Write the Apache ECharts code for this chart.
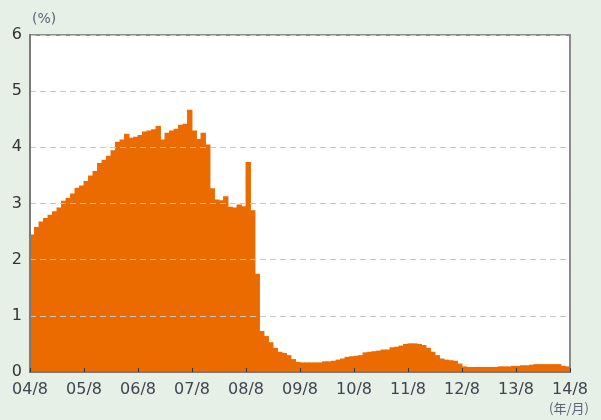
<!DOCTYPE html>
<html>
<head>
<meta charset="utf-8">
<script src="https://cdn.jsdelivr.net/npm/echarts@6/dist/echarts.min.js"></script>
<style>
html,body{margin:0;padding:0;background:#e7f0e6;}
#chart{width:601px;height:420px;}
</style>
</head>
<body>
<div id="chart"></div>
<script>
// Monthly values, Aug 2004 .. Jul 2014 (120 months)
var startYear = 2004, startMonth = 8;
var rates = [
  2.45, 2.58, 2.68, 2.74, 2.80, 2.86, 2.93, 3.05, 3.10, 3.18, 3.28, 3.32,
  3.40, 3.50, 3.58, 3.72, 3.78, 3.85, 3.95, 4.10, 4.14, 4.24, 4.17, 4.19,
  4.22, 4.28, 4.30, 4.32, 4.38, 4.14, 4.26, 4.30, 4.33, 4.40, 4.42, 4.67,
  4.30, 4.15, 4.26, 4.05, 3.27, 3.07, 3.06, 3.13, 2.94, 2.93, 2.98, 2.95,
  3.74, 2.88, 1.75, 0.73, 0.64, 0.53, 0.43, 0.36, 0.34, 0.30, 0.23, 0.18,
  0.17, 0.17, 0.17, 0.17, 0.17, 0.19, 0.19, 0.20, 0.22, 0.24, 0.27, 0.28,
  0.29, 0.30, 0.35, 0.36, 0.37, 0.38, 0.40, 0.40, 0.44, 0.45, 0.47, 0.50,
  0.51, 0.51, 0.50, 0.48, 0.43, 0.36, 0.30, 0.24, 0.22, 0.21, 0.20, 0.15,
  0.10, 0.09, 0.09, 0.09, 0.09, 0.09, 0.09, 0.09, 0.10, 0.10, 0.10, 0.11,
  0.11, 0.12, 0.12, 0.13, 0.14, 0.14, 0.14, 0.14, 0.14, 0.14, 0.11, 0.10
];
var xTickLabels = ['04/8','05/8','06/8','07/8','08/8','09/8','10/8','11/8','12/8','13/8','14/8'];
var yTickLabels = ['0','1','2','3','4','5','6'];

var months = [];
for (var i = 0; i < rates.length; i++) {
  var m = startMonth - 1 + i;
  months.push((startYear + Math.floor(m / 12)) + '/' + (m % 12 + 1));
}

var chart = echarts.init(document.getElementById('chart'), null, {renderer: 'canvas'});
var axisColor = '#7a7a7a';
var labelColor = '#3c4650';
var barColor = '#eb6b00';

chart.setOption({
  backgroundColor: '#e7f0e6',
  animation: false,
  grid: {
    left: 30, right: 31, top: 35, bottom: 48,
    show: true, backgroundColor: '#ffffff',
    borderColor: '#8a8a8a', borderWidth: 2
  },
  xAxis: [
    {
      type: 'category', data: months, show: false, boundaryGap: true
    },
    {
      type: 'value', min: 0, max: rates.length, interval: 12,
      position: 'bottom', z: 10,
      axisLine: {show: true, lineStyle: {color: axisColor, width: 2}},
      axisTick: {show: true, inside: true, length: 4, lineStyle: {color: '#333', width: 1}},
      splitLine: {show: false},
      axisLabel: {
        margin: 10, color: labelColor, fontSize: 16, fontFamily: 'DejaVu Sans',
        formatter: function (v) { return xTickLabels[Math.round(v / 12)] || ''; }
      }
    }
  ],
  yAxis: {
    type: 'value', min: 0, max: 6, interval: 1, z: 10,
    axisLine: {show: true, lineStyle: {color: axisColor, width: 2}},
    axisTick: {show: false},
    splitLine: {show: true, lineStyle: {color: '#c6c6c6', width: 1, type: [6, 4]}},
    axisLabel: {
      margin: 8, color: '#333', fontSize: 16, fontFamily: 'DejaVu Sans',
      formatter: function (v) { return yTickLabels[Math.round(v)]; }
    }
  },
  graphic: [
    {type: 'text', left: 32, top: 12, style: {text: '(%)', fill: '#5a6478', fontSize: 14, fontFamily: 'DejaVu Sans'}},
    {type: 'text', left: 549, top: 402, style: {text: '(年/月)', fill: '#5a6478', fontSize: 13, fontFamily: 'Noto Sans CJK JP'}}
  ],
  series: [{
    type: 'bar', xAxisIndex: 0, data: rates,
    barWidth: 5.4, barGap: '0%',
    itemStyle: {color: barColor},
    z: 3
  }]
});
</script>
</body>
</html>
